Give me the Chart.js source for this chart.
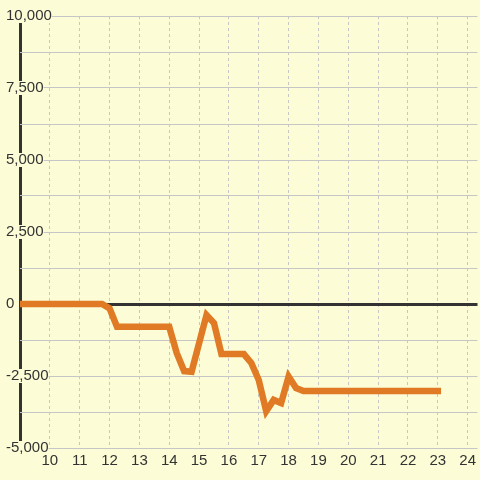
<!DOCTYPE html>
<html>
<head>
<meta charset="utf-8">
<script src="https://cdn.jsdelivr.net/npm/chart.js@4"></script>
<style>
  body { margin: 0; background: #fcfcd6; }
  #wrap { width: 480px; height: 480px; }
</style>
</head>
<body>
<div id="wrap"><canvas id="chart" width="480" height="480"></canvas></div>
<script>
const hours = [9, 11.75, 12, 12.25, 14, 14.25, 14.5, 14.75, 15.25, 15.5, 15.75, 16.5, 16.75, 17, 17.25, 17.5, 17.75, 18, 18.25, 18.5, 23];
const values = [0, 0, -150, -790, -790, -1700, -2330, -2350, -380, -660, -1740, -1740, -2050, -2640, -3720, -3330, -3440, -2520, -2920, -3020, -3020];
const yMin = -5000;
const yMax = 10000;
const yStep = 1250;
const yLabelStep = 2500;
const xMin = 9;
const xMax = 24.33;

const font = { family: "'Liberation Sans', Arial, sans-serif", size: 15 };

function isLabelled(v) {
  return v % yLabelStep === 0;
}

function isAxisTick(ctx) {
  return ctx.tick && ctx.tick.value === xMin;
}

let chart = new Chart(document.getElementById("chart"), {
  type: "line",
  data: {
    datasets: [
      {
        data: hours.map((h, i) => ({ x: h, y: values[i] })),
        borderColor: "#e07a24",
        borderWidth: 6.5,
        borderCapStyle: "square",
        pointRadius: 0,
        tension: 0,
        fill: false,
      },
    ],
  },
  options: {
    responsive: false,
    animation: false,
    layout: { padding: { top: 16, left: 20, right: 0, bottom: 6 } },
    plugins: {
      legend: { display: false },
      tooltip: { enabled: false },
    },
    scales: {
      x: {
        type: "linear",
        min: xMin,
        max: xMax,
        grid: {
          color: (ctx) => (isAxisTick(ctx) ? "#333" : "#c6c6c6"),
          lineWidth: (ctx) => (isAxisTick(ctx) ? 3 : 1),
          drawTicks: false,
        },
        border: {
          display: false,
          dash: (ctx) => (isAxisTick(ctx) ? [] : [3, 3]),
        },
        ticks: {
          stepSize: 1,
          includeBounds: false,
          padding: 4,
          color: "#333",
          font: font,
          callback: (v) => (v === xMin ? "" : v),
        },
      },
      y: {
        min: yMin,
        max: yMax,
        grid: {
          color: (ctx) => (ctx.tick && ctx.tick.value === 0 ? "#333" : "#c6c6c6"),
          lineWidth: (ctx) => (ctx.tick && ctx.tick.value === 0 ? 3 : 1),
          drawTicks: false,
        },
        border: { display: false },
        ticks: {
          stepSize: yStep,
          mirror: true,
          padding: -14 / 3,
          color: "#333",
          font: { family: font.family, size: 15, lineHeight: "14px" },
          showLabelBackdrop: (ctx) => isLabelled(ctx.tick.value),
          backdropColor: "#fcfcd6",
          backdropPadding: (ctx) =>
            ctx.tick.value === yMin
              ? { top: 6, bottom: 0, left: 1, right: 1 }
              : { top: 0, bottom: 0, left: 1, right: 1 },
          callback: (v) => (isLabelled(v) ? v.toLocaleString("en-US") : ""),
        },
      },
    },
  },
});
</script>
</body>
</html>
